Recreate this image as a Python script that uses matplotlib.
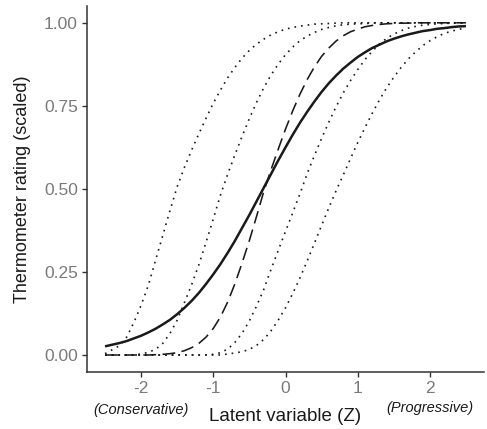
import matplotlib
matplotlib.use("Agg")
import matplotlib.pyplot as plt
import matplotlib.transforms as mtransforms

plt.rcParams['font.family'] = ['Liberation Sans', 'DejaVu Sans']
plt.rcParams['axes.unicode_minus'] = False

# latent variable grid (x) and curve values
latent_z = [-2.5, -2.4, -2.3, -2.2, -2.1, -2.0, -1.9, -1.8, -1.7, -1.6,
            -1.5, -1.4, -1.3, -1.2, -1.1, -1.0, -0.9, -0.8, -0.7, -0.6,
            -0.5, -0.4, -0.3, -0.2, -0.1, 0.0, 0.1, 0.2, 0.3, 0.4,
            0.5, 0.6, 0.7, 0.8, 0.9, 1.0, 1.1, 1.2, 1.3, 1.4,
            1.5, 1.6, 1.7, 1.8, 1.9, 2.0, 2.1, 2.2, 2.3, 2.4, 2.5]

# average response (solid)
rating_mean = [0.026, 0.031, 0.036, 0.042, 0.050, 0.058, 0.068, 0.079, 0.092, 0.106,
               0.123, 0.142, 0.163, 0.187, 0.214, 0.243, 0.274, 0.308, 0.344, 0.383,
               0.422, 0.463, 0.504, 0.545, 0.586, 0.625, 0.663, 0.699, 0.732, 0.763,
               0.792, 0.818, 0.841, 0.862, 0.880, 0.897, 0.911, 0.924, 0.934, 0.944,
               0.952, 0.959, 0.965, 0.970, 0.975, 0.978, 0.982, 0.984, 0.987, 0.989, 0.990]

# steeper response (dashed)
rating_steep = [0.0, 0.0, 0.0, 0.0, 0.0, 0.0, 0.0, 0.001, 0.002, 0.004,
                0.007, 0.013, 0.022, 0.035, 0.054, 0.080, 0.115, 0.160, 0.215, 0.278,
                0.345, 0.418, 0.493, 0.558, 0.620, 0.680, 0.735, 0.785, 0.829, 0.867,
                0.899, 0.924, 0.945, 0.961, 0.973, 0.981, 0.988, 0.992, 0.995, 0.997,
                0.998, 0.999, 0.999, 1.0, 1.0, 1.0, 1.0, 1.0, 1.0, 1.0, 1.0]

# individual responses (dotted)
rating_d1 = [0.004, 0.016, 0.028, 0.054, 0.098, 0.150, 0.210, 0.285, 0.360, 0.435,
             0.507, 0.565, 0.617, 0.666, 0.713, 0.758, 0.798, 0.835, 0.866, 0.894,
             0.917, 0.936, 0.951, 0.964, 0.973, 0.981, 0.986, 0.990, 0.993, 0.996,
             0.997, 0.998, 0.999, 1.0, 1.0, 1.0, 1.0, 1.0, 1.0, 1.0,
             1.0, 1.0, 1.0, 1.0, 1.0, 1.0, 1.0, 1.0, 1.0, 1.0, 1.0]
rating_d2 = [0.0, 0.0, 0.0, 0.0, 0.0, 0.003, 0.008, 0.017, 0.035, 0.065,
             0.105, 0.158, 0.212, 0.272, 0.340, 0.410, 0.482, 0.545, 0.603, 0.659,
             0.712, 0.761, 0.805, 0.843, 0.876, 0.904, 0.927, 0.946, 0.960, 0.971,
             0.980, 0.986, 0.991, 0.994, 0.996, 0.997, 0.998, 0.999, 1.0, 1.0,
             1.0, 1.0, 1.0, 1.0, 1.0, 1.0, 1.0, 1.0, 1.0, 1.0, 1.0]
rating_d3 = [0.0, 0.0, 0.0, 0.0, 0.0, 0.0, 0.0, 0.0, 0.0, 0.0,
             0.0, 0.0, 0.0, 0.0, 0.0, 0.002, 0.007, 0.018, 0.038, 0.066,
             0.103, 0.148, 0.198, 0.258, 0.315, 0.372, 0.428, 0.485, 0.546, 0.600,
             0.652, 0.701, 0.747, 0.789, 0.826, 0.859, 0.889, 0.914, 0.936, 0.953,
             0.966, 0.976, 0.984, 0.989, 0.993, 0.995, 0.997, 0.998, 0.999, 1.0, 1.0]
rating_d4 = [0.0, 0.0, 0.0, 0.0, 0.0, 0.0, 0.0, 0.0, 0.0, 0.0,
             0.0, 0.0, 0.0, 0.0, 0.0, 0.0, 0.0, 0.003, 0.006, 0.010,
             0.017, 0.029, 0.047, 0.073, 0.105, 0.142, 0.185, 0.232, 0.283, 0.336,
             0.390, 0.443, 0.494, 0.542, 0.591, 0.639, 0.684, 0.727, 0.767, 0.804,
             0.836, 0.865, 0.891, 0.912, 0.931, 0.946, 0.958, 0.968, 0.975, 0.980, 0.985]

x_ticks = [-2, -1, 0, 1, 2]
y_ticks = [0.0, 0.25, 0.50, 0.75, 1.0]
y_ticklabels = ['0.00', '0.25', '0.50', '0.75', '1.00']

ink = '#1a1a1a'
grey = '#7a7a7a'

fig = plt.figure(figsize=(4.87, 4.29), dpi=100)
ax = fig.add_axes([87 / 487, 57.4 / 429, 397 / 487, 365.4 / 429])

for d in [rating_d1, rating_d2, rating_d3, rating_d4]:
    ax.plot(latent_z, d, color=ink, lw=1.2, linestyle=(0, (1, 3)))
ax.plot(latent_z, rating_steep, color=ink, lw=1.15, linestyle=(0, (8, 4)))
ax.plot(latent_z, rating_mean, color=ink, lw=1.8, solid_capstyle='butt')

ax.set_xlim(-2.75, 2.75)
ax.set_ylim(-0.05, 1.05)
ax.set_xticks(x_ticks, labels=[str(t) for t in x_ticks])
ax.set_yticks(y_ticks, labels=y_ticklabels)
ax.tick_params(axis='both', colors='#333333', labelcolor=grey, labelsize=12.5,
               length=3.5, width=1.0, pad=3)

for side in ['top', 'right']:
    ax.spines[side].set_visible(False)
for side in ['left', 'bottom']:
    ax.spines[side].set_color('#333333')
    ax.spines[side].set_linewidth(1.1)

ax.set_xlabel('Latent variable (Z)', fontsize=13.5, color=ink)
ax.xaxis.set_label_coords(0.5, -0.124)
ax.xaxis.label.set_va('center')
ax.set_ylabel('Thermometer rating (scaled)', fontsize=13, color=ink)
ax.yaxis.set_label_coords(-0.162, 0.5)
ax.yaxis.label.set_va('center')

trans = mtransforms.blended_transform_factory(ax.transData, fig.transFigure)
ax.text(-2, 1 - 410 / 429, '(Conservative)', transform=trans, ha='center',
        va='center', fontsize=10.5, style='italic', color=ink)
ax.text(2, 1 - 408 / 429, '(Progressive)', transform=trans, ha='center',
        va='center', fontsize=10.5, style='italic', color=ink)

fig.savefig('out.png', dpi=100)
plt.close(fig)
